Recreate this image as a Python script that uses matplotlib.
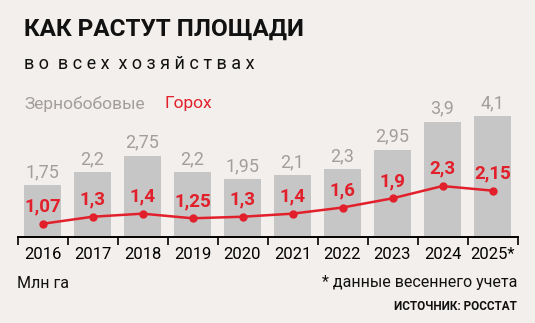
import matplotlib
matplotlib.use("Agg")
import matplotlib.pyplot as plt

years = ["2016", "2017", "2018", "2019", "2020", "2021", "2022", "2023", "2024", "2025*"]
grain = [1.75, 2.2, 2.75, 2.2, 1.95, 2.1, 2.3, 2.95, 3.9, 4.1]
peas = [1.07, 1.3, 1.4, 1.25, 1.3, 1.4, 1.6, 1.9, 2.3, 2.15]

plt.rcParams["font.family"] = ["Roboto", "DejaVu Sans"]

BG = "#f2efec"
BAR = "#c6c6c6"
GREY_TXT = "#a39e9b"
RED = "#e2202b"

W, H = 535, 323
fig = plt.figure(figsize=(W / 100, H / 100), dpi=100, facecolor=BG)

def fx(px):
    return px / W

def fy(py):
    return 1 - py / H

ax = fig.add_axes([fx(17.5), fy(237), fx(500), (237 - 80) / H])
ax.set_facecolor("none")
x = list(range(len(years)))
ax.bar(x, grain, width=0.74, color=BAR, zorder=1)
ax.set_xlim(-0.5, len(years) - 0.5)
ax.set_ylim(0, 157 / 29.5)

# grey labels above bars
for i, v in enumerate(grain):
    ax.annotate(str(v).replace(".", ","), (i, v), xytext=(0, 3), textcoords="offset points",
                ha="center", va="bottom", fontsize=13, color=GREY_TXT)

# peas line on its own scale
ax2 = ax.twinx()
ax2.set_ylim(0.64, 0.64 + 157 / 30.7)
ax2.plot(x, peas, color=RED, lw=1.8, marker="o", ms=5, zorder=3)
for i, v in enumerate(peas):
    ax2.annotate(str(v).replace(".", ","), (i, v), xytext=(0, 6), textcoords="offset points",
                 ha="center", va="bottom", fontsize=13.5, color=RED, fontweight="bold")

for a in (ax, ax2):
    for s in ("top", "right", "left"):
        a.spines[s].set_visible(False)
    a.set_yticks([])
ax2.spines["bottom"].set_visible(False)
ax.spines["bottom"].set_linewidth(1.4)

ax.set_xticks([i - 0.5 for i in range(len(years) + 1)])
ax.set_xticklabels([])
ax.tick_params(axis="x", length=6, width=1.2, direction="out")
ax.set_xticks(x, minor=True)
ax.set_xticklabels(years, minor=True, fontsize=12)
ax.tick_params(axis="x", which="minor", length=0, pad=7)

fig.text(fx(24), fy(29), "КАК РАСТУТ ПЛОЩАДИ", fontsize=17.5, fontweight="bold",
         va="center", ha="left", color="#111111")
fig.text(fx(24), fy(64), "в о  в с е х  х о з я й с т в а х", fontsize=13,
         va="center", ha="left", color="#111111")
fig.text(fx(24), fy(104), "Зернобобовые", fontsize=12.5, va="center", color=GREY_TXT)
fig.text(fx(165), fy(104), "Горох", fontsize=12.5, va="center", color=RED)
fig.text(fx(17), fy(284), "Млн га", fontsize=11.5, va="center", color="#111111")
fig.text(fx(517), fy(283), "* данные весеннего учета", fontsize=11.5, va="center",
         ha="right", color="#111111")
fig.text(fx(517), fy(306), "ИСТОЧНИК: РОССТАТ", fontsize=8.5, fontweight="bold",
         va="center", ha="right", color="#111111")

fig.savefig("out.png", dpi=100, facecolor=BG)
